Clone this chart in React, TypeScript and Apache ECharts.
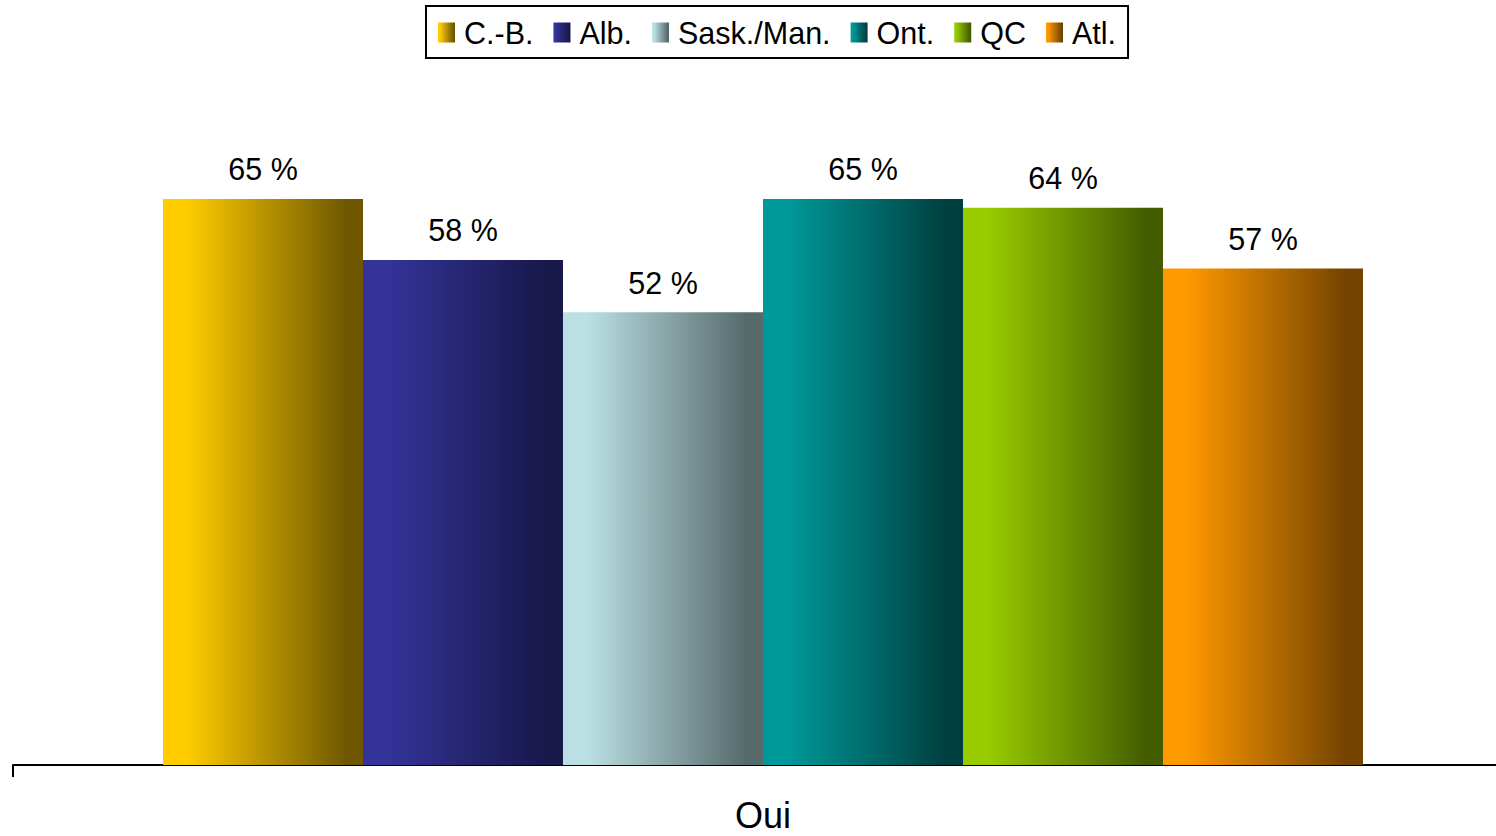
import React, { useEffect, useRef } from "react";
import * as echarts from "echarts";

const categories = ["Oui"];
const seriesNames = ["C.-B.", "Alb.", "Sask./Man.", "Ont.", "QC", "Atl."];
const seriesValues = [[65], [58], [52], [65], [64], [57]];
const lightColors = ["#FFCC00", "#333399", "#BBE0E3", "#009999", "#99CC00", "#FF9900"];
const darkColors = ["#6E5700", "#18184A", "#566A6C", "#003F40", "#435C00", "#734300"];

const FONT = "'Liberation Sans', Arial, sans-serif";

export default function App() {
  const ref = useRef<HTMLDivElement>(null);
  useEffect(() => {
    if (!ref.current) return;
    const chart = echarts.init(ref.current, null, { renderer: "svg" });
    const series = seriesNames.map((name, i) => ({
      name,
      type: "bar" as const,
      data: seriesValues[i],
      barGap: "0%",
      barCategoryGap: "20%",
      itemStyle: {
        color: new echarts.graphic.LinearGradient(0, 0, 1, 0, [
          { offset: 0, color: lightColors[i] },
          { offset: 0.12, color: lightColors[i] },
          { offset: 0.92, color: darkColors[i] },
          { offset: 1, color: darkColors[i] },
        ]),
      },
      label: {
        show: true,
        position: "top",
        distance: 14,
        formatter: "{c} %",
        color: "#000",
        fontFamily: FONT,
        fontSize: 30.5,
      },
    }));
    chart.setOption({
      animation: false,
      textStyle: { fontFamily: FONT },
      legend: {
        left: 426,
        top: 6,
        orient: "horizontal",
        borderColor: "#000",
        borderWidth: 2,
        padding: [11, 12, 10, 12],
        itemWidth: 17,
        itemHeight: 20,
        itemGap: 20,
        icon: "rect",
        textStyle: { fontSize: 30.5, color: "#000", fontFamily: FONT, padding: [0, 0, 0, 4] },
        data: seriesNames,
      },
      grid: { left: 13, right: 17, top: 68.3, bottom: 71, containLabel: false },
      xAxis: {
        type: "category",
        data: categories,
        boundaryGap: true,
        axisLine: { show: true, lineStyle: { color: "#000", width: 2 } },
        axisTick: { show: true, length: 12, lineStyle: { color: "#000", width: 2 } },
        axisLabel: { color: "#000", fontSize: 36, fontFamily: FONT, margin: 32 },
      },
      yAxis: {
        type: "value",
        min: 0,
        max: 80,
        show: false,
        splitLine: { show: false },
      },
      series,
    });
    return () => chart.dispose();
  }, []);
  return (
    <div
      style={{ position: "absolute", left: 0, top: 0, width: 1496, height: 836, overflow: "hidden", background: "#fff" }}
    >
      <div ref={ref} style={{ width: 1530, height: 836 }} />
    </div>
  );
}
